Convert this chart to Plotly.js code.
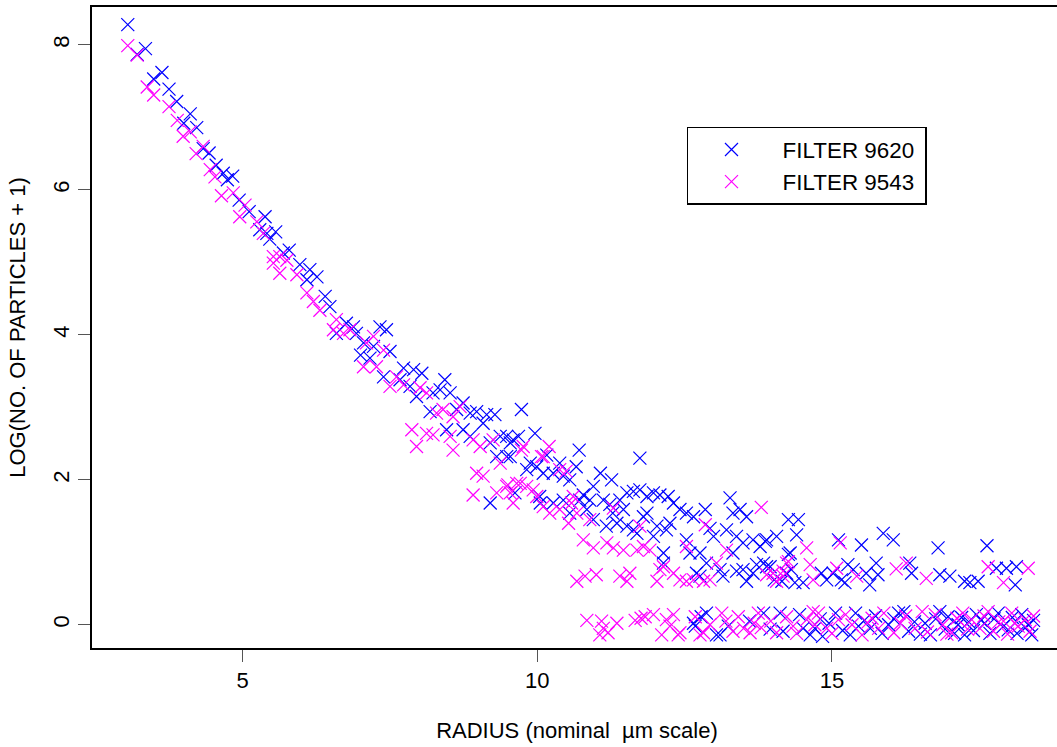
<!DOCTYPE html>
<html>
<head>
<meta charset="utf-8">
<script src="https://cdn.plot.ly/plotly-3.0.1.min.js"></script>
<style>
html, body { margin: 0; padding: 0; overflow: hidden; background: #fff; }
#chart { width: 1062px; height: 747px; }
</style>
</head>
<body>
<div id="chart"></div>
<script>
// FILTER 9620 (blue)
const radius9620 = [
3.05,3.21,3.35,3.49,3.63,3.75,3.88,4.00,4.11,4.22,4.33,4.43,4.55,4.67,4.74,4.83,4.94,5.11,5.29,5.38,
5.41,5.46,5.56,5.69,5.79,5.97,6.09,6.14,6.26,6.40,6.48,6.59,6.76,6.88,6.93,7.00,7.05,7.16,7.22,7.33,
7.39,7.44,7.50,7.67,7.73,7.84,7.90,7.95,8.04,8.18,8.23,8.35,8.43,8.46,8.52,8.63,8.74,8.74,8.86,8.86,
8.97,9.08,9.14,9.20,9.20,9.28,9.31,9.37,9.48,9.48,9.54,9.54,9.59,9.62,9.68,9.73,9.82,9.88,9.96,9.99,
10.04,10.05,10.10,10.16,10.27,10.27,10.38,10.44,10.44,10.55,10.55,10.66,10.71,10.72,10.78,10.84,10.89,10.95,10.95,11.07,
11.12,11.17,11.23,11.26,11.28,11.35,11.40,11.46,11.52,11.52,11.63,11.63,11.69,11.74,11.74,11.80,11.86,11.86,11.97,11.97,
12.03,12.08,12.14,12.14,12.19,12.22,12.25,12.31,12.42,12.53,12.53,12.59,12.65,12.70,12.76,12.76,12.85,12.87,12.93,12.99,
13.10,13.15,13.21,13.27,13.32,13.32,13.38,13.38,13.44,13.49,13.49,13.55,13.55,13.66,13.66,13.72,13.78,13.84,13.87,13.89,
13.89,13.95,14.02,14.06,14.15,14.23,14.26,14.26,14.29,14.31,14.37,14.40,14.43,14.51,14.82,14.91,15.02,15.11,15.16,15.22,
15.27,15.36,15.50,15.58,15.64,15.75,15.78,15.87,16.04,16.32,16.35,16.80,16.83,17.00,17.25,17.34,17.48,17.63,17.79,17.96,
18.11,18.13,
12.65,12.68,12.78,12.87,13.04,13.10,13.24,13.60,13.84,13.95,14.12,14.17,14.45,14.51,14.63,14.71,14.80,14.84,14.95,15.06,
15.18,15.31,15.40,15.45,15.55,15.65,15.74,15.85,15.96,16.05,16.13,16.22,16.30,16.40,16.50,16.58,16.67,16.76,16.83,16.92,
16.97,17.08,17.14,17.20,17.25,17.32,17.40,17.45,17.53,17.59,17.68,17.75,17.82,17.90,17.99,18.06,18.14,18.22,18.28,18.33,
18.39,18.42
];
const logCount9620 = [
8.28,7.87,7.95,7.53,7.62,7.39,7.22,6.92,7.05,6.86,6.57,6.51,6.34,6.23,6.14,6.19,5.86,5.70,5.45,5.63,
5.40,5.32,5.42,5.13,5.17,4.97,4.76,4.90,4.80,4.53,4.39,4.02,4.16,4.11,4.02,3.72,3.89,3.68,3.84,4.11,
3.42,4.07,3.77,3.38,3.54,3.29,3.52,3.15,3.47,2.94,3.20,3.24,3.38,2.69,3.20,2.97,3.06,2.69,2.92,2.60,
2.94,2.78,2.90,2.51,1.68,2.90,2.32,2.60,2.60,2.32,2.51,2.32,2.55,1.82,2.60,2.97,2.14,2.23,2.64,2.18,
1.77,1.68,2.09,2.34,2.09,1.68,2.23,2.05,1.72,2.00,1.54,2.18,2.41,1.72,1.79,1.59,1.72,1.91,1.45,2.09,
1.72,1.36,1.66,2.00,1.54,1.40,1.72,1.59,1.82,1.36,1.84,1.31,1.26,2.30,1.86,1.49,1.77,1.54,1.82,1.22,
1.36,1.79,0.99,0.85,1.31,1.77,1.40,1.68,1.59,1.54,1.17,0.99,1.49,0.71,0.99,0.67,1.59,0.85,1.33,1.22,
0.76,0.67,1.31,1.75,1.54,0.99,1.22,0.74,1.59,1.13,0.76,1.49,0.60,1.17,0.71,0.83,1.08,0.85,1.15,1.17,
0.80,0.80,0.62,1.22,0.60,0.71,1.45,0.97,0.99,0.76,0.58,1.24,1.45,0.58,0.71,0.62,0.71,1.17,0.62,0.58,
0.83,0.76,1.10,0.71,0.55,0.85,0.69,1.26,1.17,0.85,0.71,1.06,0.69,0.67,0.60,0.58,0.60,1.09,0.78,0.78,
0.55,0.80,
0.02,-0.02,0.11,0.16,-0.14,-0.14,-0.02,0.05,0.16,-0.06,0.16,-0.09,0.14,-0.05,-0.14,-0.05,0.08,-0.16,0.02,0.16,
-0.08,-0.14,0.16,-0.02,0.06,-0.05,0.12,-0.12,0.00,0.08,0.16,0.18,-0.09,0.04,-0.13,0.02,-0.14,0.08,0.18,-0.06,
0.11,-0.12,0.00,0.10,-0.14,0.04,-0.08,0.14,0.06,0.02,-0.12,0.08,0.16,-0.03,-0.07,0.10,-0.12,0.14,-0.04,0.00,
-0.14,0.06
];

// FILTER 9543 (magenta)
const radius9543 = [
3.05,3.21,3.38,3.49,3.75,3.89,3.99,4.11,4.21,4.33,4.45,4.53,4.64,4.84,4.95,5.04,5.24,5.35,5.52,5.52,
5.63,5.63,5.75,5.92,6.09,6.20,6.31,6.54,6.59,6.71,6.82,7.05,7.10,7.22,7.27,7.39,7.50,7.61,7.73,7.87,
7.95,8.01,8.12,8.12,8.23,8.29,8.40,8.52,8.57,8.57,8.69,8.91,8.91,8.97,9.03,9.08,9.25,9.31,9.37,9.48,
9.50,9.54,9.59,9.65,9.71,9.73,9.76,9.82,9.93,9.99,10.07,10.10,10.10,10.20,10.21,10.38,10.38,10.49,10.53,10.58,
10.61,10.67,10.67,10.78,10.81,10.89,10.95,11.00,11.18,11.29,11.29,11.40,11.46,11.52,11.57,11.69,11.74,11.80,11.91,12.03,
12.08,12.14,12.31,12.42,12.53,12.53,12.65,12.82,12.85,12.93,13.04,13.21,13.80,13.89,14.00,14.06,14.17,14.17,14.23,14.26,
14.57,14.63,14.68,15.08,15.14,15.42,16.09,16.26,16.60,17.65,17.91,18.33,
10.84,11.06,11.09,11.12,11.20,11.35,11.66,11.76,11.83,11.97,12.11,12.19,12.25,12.31,12.39,12.42,12.68,12.76,12.82,12.93,
13.13,13.20,13.32,13.41,13.50,13.61,13.68,13.75,13.80,13.96,14.06,14.23,14.34,14.40,14.57,14.68,14.71,14.77,14.91,15.00,
15.11,15.23,15.34,15.51,15.60,15.68,15.79,15.88,16.05,16.16,16.25,16.41,16.53,16.62,16.75,16.88,16.95,17.03,17.12,17.22,
17.30,17.37,17.51,17.58,17.65,17.74,17.83,17.91,17.98,18.05,18.10,18.16,18.28,18.36,18.42
];
const logCount9543 = [
7.99,7.86,7.42,7.31,7.15,6.96,6.74,6.80,6.50,6.60,6.28,6.18,5.92,5.96,5.63,5.79,5.56,5.40,5.08,4.99,
5.08,4.85,5.03,4.83,4.58,4.46,4.34,4.07,4.21,4.02,4.07,3.56,3.89,3.98,3.56,3.79,3.29,3.42,3.31,2.69,
2.46,3.27,3.20,2.64,2.62,2.92,2.97,2.60,2.87,2.41,3.01,2.55,1.79,2.09,2.46,2.05,2.55,1.82,2.23,1.91,
1.93,1.82,1.68,1.95,1.95,2.41,2.46,1.91,1.86,1.77,2.32,2.32,1.63,2.46,1.54,2.14,1.59,2.12,1.40,1.68,
1.77,1.54,0.60,1.17,0.67,1.45,1.06,0.69,1.13,1.61,1.06,0.67,1.03,0.60,0.71,1.03,1.36,1.08,1.03,0.60,
0.76,0.80,0.71,0.62,1.08,0.60,0.62,0.60,1.38,0.62,0.85,1.03,1.62,0.69,0.71,0.60,0.74,0.67,0.85,0.87,
1.06,0.83,0.62,0.78,1.13,0.67,0.77,0.85,0.64,0.80,0.58,0.78,
0.06,-0.14,0.05,-0.05,-0.11,0.02,0.06,0.09,0.11,0.14,-0.14,0.07,-0.02,0.14,-0.14,-0.11,0.11,-0.14,-0.11,0.00,
0.16,0.05,-0.09,0.11,-0.05,-0.11,0.02,0.16,-0.04,0.05,-0.11,0.11,-0.02,-0.12,0.07,0.18,0.00,0.16,-0.05,-0.12,
0.07,0.14,0.00,-0.14,0.03,0.09,-0.05,0.16,-0.11,0.02,0.12,-0.05,0.18,-0.10,0.14,0.00,-0.13,-0.11,0.09,0.16,
-0.06,0.07,-0.05,0.12,0.18,-0.09,0.04,0.05,-0.13,0.16,0.02,-0.02,0.07,-0.09,0.12
];

const seriesNames = ['\u00A0\u00A0\u00A0\u00A0\u00A0FILTER 9620\u00A0', '\u00A0\u00A0\u00A0\u00A0\u00A0FILTER 9543\u00A0'];
const xTicks = [5, 10, 15];
const yTicks = [0, 2, 4, 6, 8];

const FONT = 'Liberation Sans, Arial, Helvetica, sans-serif';

const traces = [
  { x: radius9620, y: logCount9620, type: 'scatter', mode: 'markers', name: seriesNames[0],
    marker: { symbol: 'x-thin', size: 13, color: '#0000FF', line: { color: '#0000FF', width: 1.2 } } },
  { x: radius9543, y: logCount9543, type: 'scatter', mode: 'markers', name: seriesNames[1],
    marker: { symbol: 'x-thin', size: 13, color: '#FF00FF', line: { color: '#FF00FF', width: 1.2 } } }
];

const layout = {
  width: 1062, height: 747,
  margin: { l: 92, r: 0, t: 7, b: 99, pad: 0 },
  paper_bgcolor: '#ffffff', plot_bgcolor: '#ffffff',
  font: { family: FONT, size: 22, color: '#000000' },
  showlegend: true,
  xaxis: {
    range: [2.443, 18.903], tickmode: 'array', tickvals: xTicks,
    ticks: 'outside', ticklen: 12, tickwidth: 1, tickcolor: '#555555',
    showline: true, linecolor: '#000000', linewidth: 2, mirror: true,
    showgrid: false, zeroline: false,
    tickfont: { family: FONT, size: 22, color: '#000000' },
    title: { text: 'RADIUS (nominal \u00A0\u00B5m scale)', font: { family: FONT, size: 22, color: '#000000' }, standoff: 30 }
  },
  yaxis: {
    range: [-0.321, 8.524], tickmode: 'array', tickvals: yTicks, tickangle: -90,
    ticks: 'outside', ticklen: 12, tickwidth: 1, tickcolor: '#555555',
    showline: true, linecolor: '#000000', linewidth: 2, mirror: true,
    showgrid: false, zeroline: false,
    tickfont: { family: FONT, size: 22, color: '#000000' },
    title: { text: 'LOG(NO. OF PARTICLES + 1)', font: { family: FONT, size: 22, color: '#000000' }, standoff: 18 }
  },
  legend: {
    x: 0.6134, y: 0.8129, xanchor: 'left', yanchor: 'top',
    bgcolor: '#ffffff', bordercolor: '#000000', borderwidth: 1.5,
    indentation: 23,
    font: { family: FONT, size: 22.4, color: '#000000' }
  }
};

Plotly.newPlot('chart', traces, layout, { displayModeBar: false, staticPlot: true });
</script>
</body>
</html>
